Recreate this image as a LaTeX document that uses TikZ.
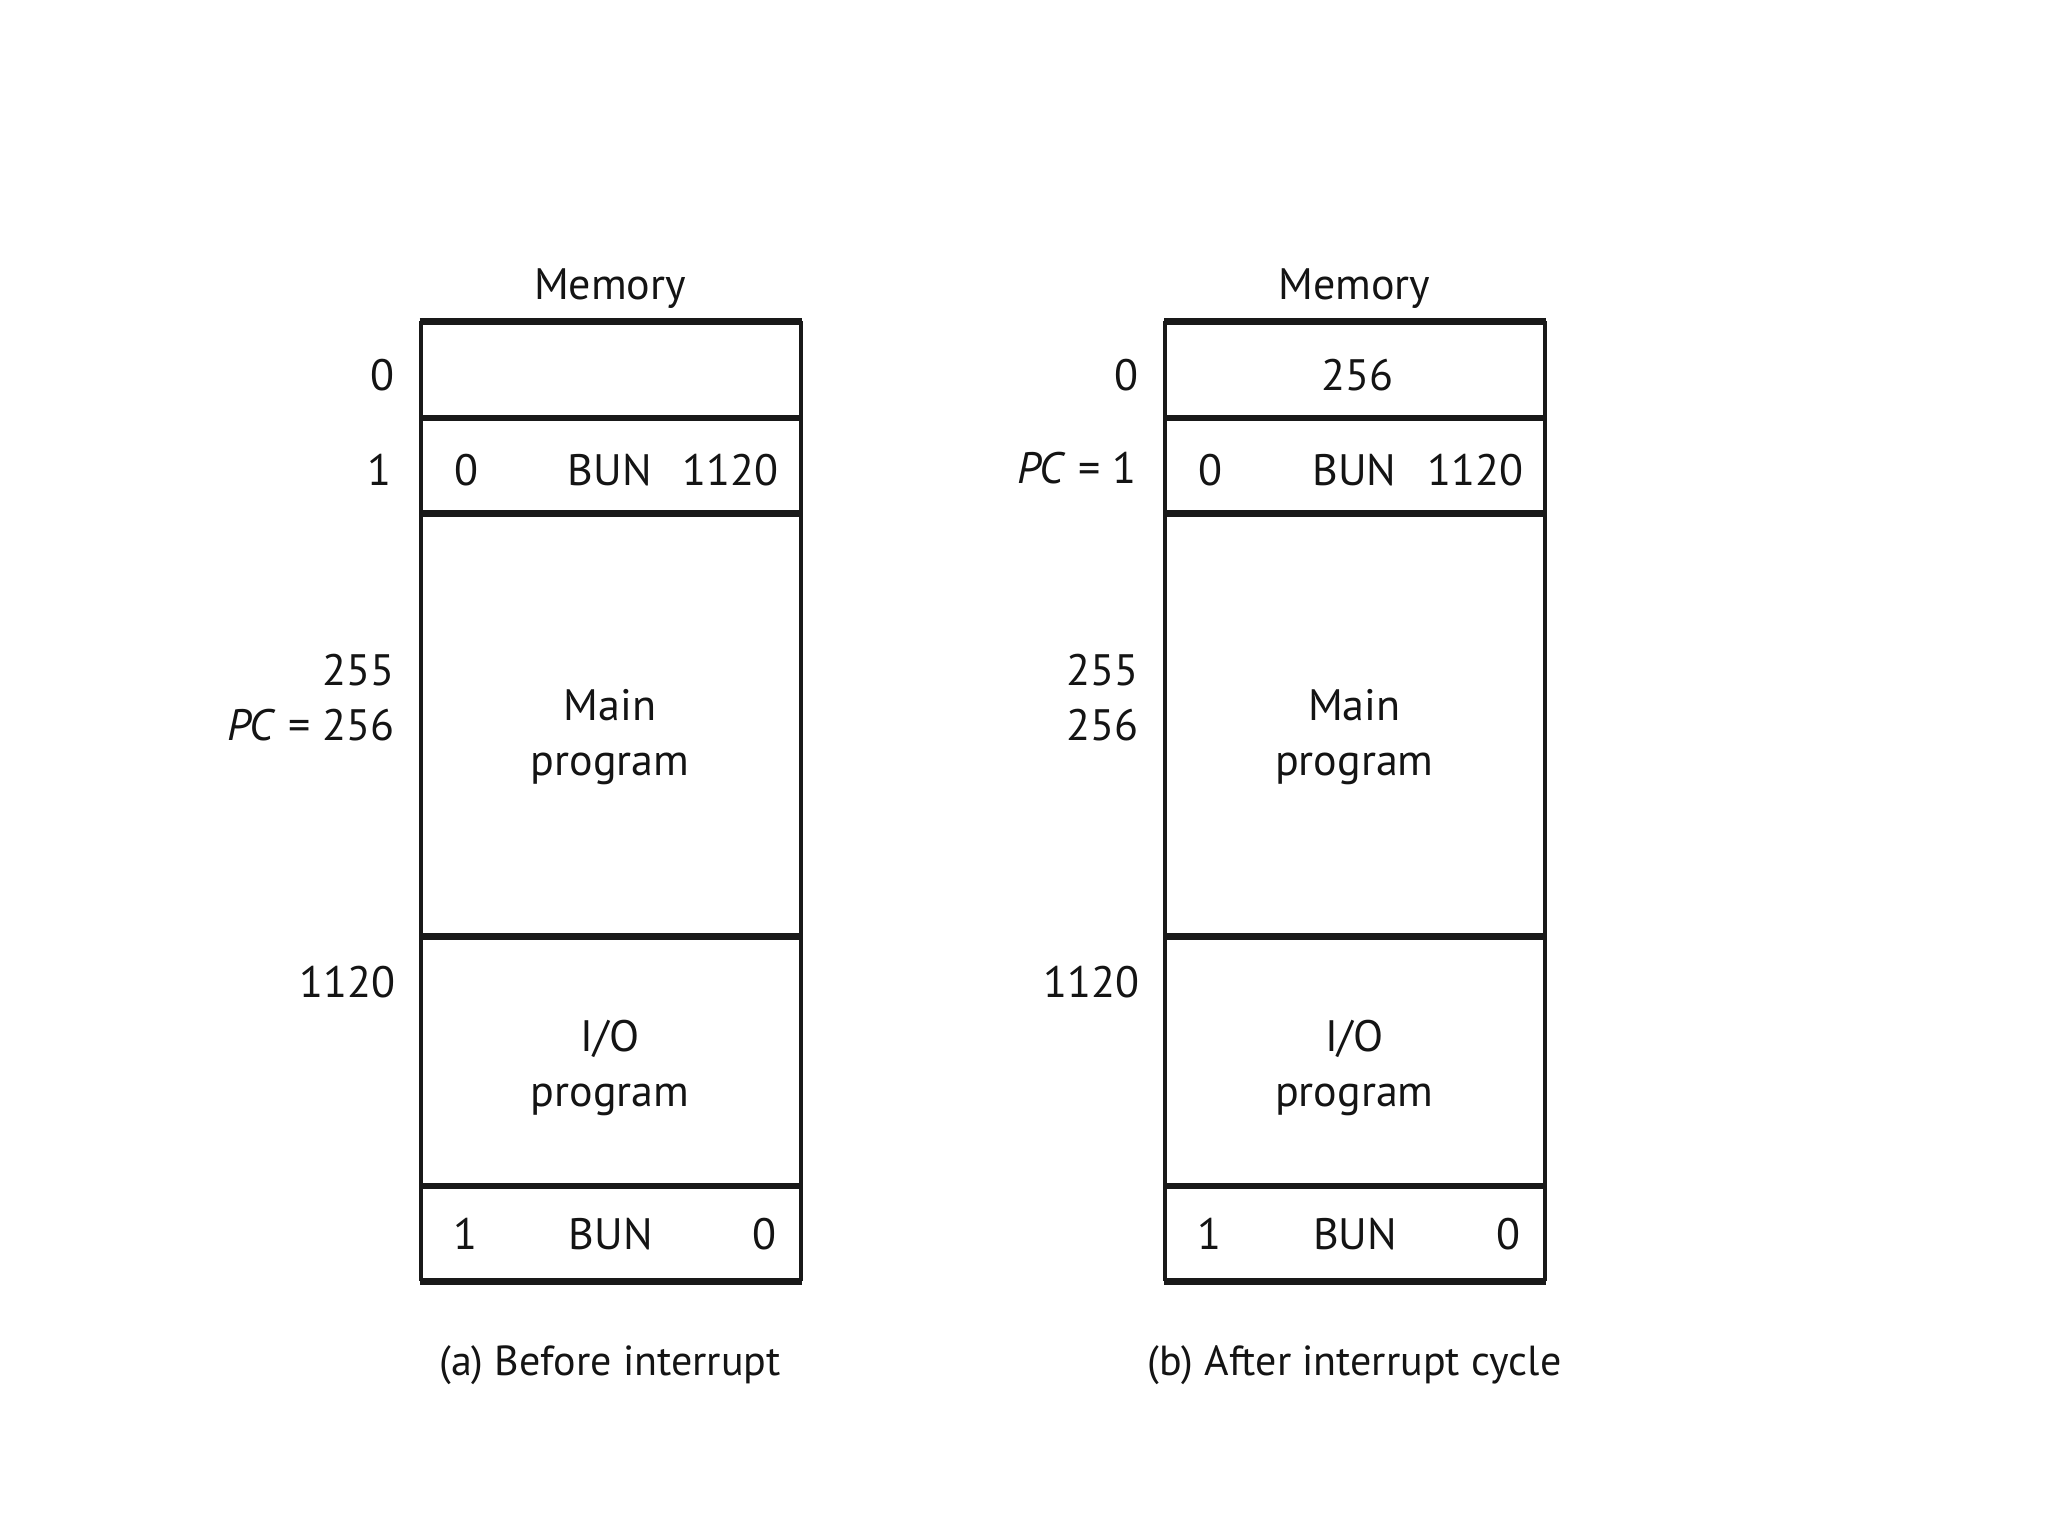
\documentclass[tikz,border=0pt]{standalone}
\usepackage{fontspec}
\setmainfont{PT Sans}
\begin{document}
\begin{tikzpicture}[x=0.5pt,y=-0.5pt,
  txt/.style={font=\fontsize{22}{27.5}\selectfont, text=black!92, inner sep=0pt, align=center, anchor=base},
  lbl/.style={txt, align=right, anchor=base east},
  captxt/.style={txt, font=\fontsize{21}{26}\selectfont},
  hline/.style={line width=3.2pt, draw=black!90},
  vline/.style={line width=2pt, draw=black!90}]
\useasboundingbox[fill=white] (0,0) rectangle (2048,1536);
\newcommand\memframe[1]{%
  \coordinate (#1-tl) at (420.6,321.3);
  \coordinate (#1-tr) at (800.6,321.3);
  \coordinate (#1-bl) at (420.6,1281.3);
  \coordinate (#1-br) at (800.6,1281.3);
  \draw[vline] (#1-tl) -- (#1-bl);
  \draw[vline] (#1-tr) -- (#1-br);
  \foreach \yy in {321.3,418,513.3,936.5,1186,1281.3}
    \draw[hline] (419.6,\yy) -- (801.6,\yy);
  \node[txt] (#1-title) at (610,299) {Memory};
  \node[txt] (#1-r1a) at (466.3,485.5) {0};
  \node[txt] (#1-r1b) at (609.9,485.5) {BUN};
  \node[txt] (#1-r1c) at (730.8,485.5) {1120};
  \node[txt] (#1-main) at (610,775.4) {Main\\program};
  \node[txt] (#1-io) at (610,1106) {I/O\\program};
  \node[txt] (#1-r9a) at (465,1249.7) {1};
  \node[txt] (#1-r9b) at (610.7,1249.7) {BUN};
  \node[txt] (#1-r9c) at (764,1249.7) {0};
  \node[lbl] (#1-l0) at (394.4,390) {0};
  \node[lbl] (#1-l1120) at (395.7,997.6) {1120};
}
% (a) Before interrupt
\begin{scope}
  \memframe{a}
  \node[lbl] (a-l1) at (392,485.5) {1};
  \node[lbl] (a-l255) at (394.4,740.3) {255\\\textit{PC} = 256};
  \node[captxt] (a-cap) at (610,1375) {(a) Before interrupt};
\end{scope}
% (b) After interrupt cycle
\begin{scope}[xshift=372.2pt]
  \memframe{b}
  \node[txt] (b-r0) at (612.6,390) {256};
  \node[lbl] (b-l1) at (392,483) {\textit{PC} = 1};
  \node[lbl] (b-l255) at (394.4,740.3) {255\\256};
  \node[captxt] (b-cap) at (610,1375) {(b) After interrupt cycle};
\end{scope}
\end{tikzpicture}
\end{document}
